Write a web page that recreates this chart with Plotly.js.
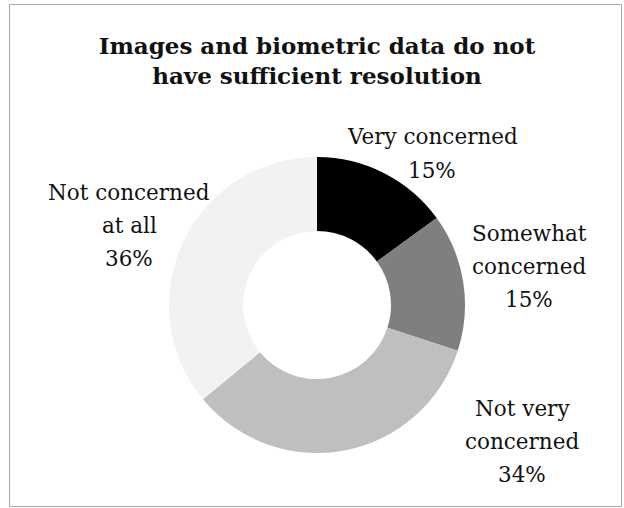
<!DOCTYPE html>
<html>
<head>
<meta charset="utf-8">
<script src="https://cdn.plot.ly/plotly-3.0.1.min.js"></script>
<style>
  html, body { margin: 0; padding: 0; background: #ffffff; }
  #chart { width: 624px; height: 508px; }
</style>
</head>
<body>
<div id="chart"></div>
<script>
// Survey responses, in clockwise order from 12 o'clock
const categories = ['Very concerned', 'Somewhat concerned', 'Not very concerned', 'Not concerned at all'];
const values = [15, 15, 34, 36];
// How each category name wraps in its label
const labelLines = [
  ['Very concerned'],
  ['Somewhat', 'concerned'],
  ['Not very', 'concerned'],
  ['Not concerned', 'at all']
];
const titleText = 'Images and biometric data do not<br>have sufficient resolution';

// Styling and placement
const W = 624, H = 508;
const sliceColors = ['#000000', '#7f7f7f', '#bfbfbf', '#f2f2f2'];
const FONT = 'DejaVu Serif, Liberation Serif, serif';
const labelSize = 21.5;
const lineGap = 33;
// pixel anchors: [center x, center y of first line]
const labelAnchors = [[432, 137], [529, 233], [522, 408], [129, 192]];

const total = values.reduce((a, b) => a + b, 0);

const annotations = [];
categories.forEach((cat, i) => {
  const pct = Math.round(values[i] / total * 100) + '%';
  const lines = labelLines[i].concat([pct]);
  lines.forEach((line, j) => {
    annotations.push({
      xref: 'paper', yref: 'paper',
      x: labelAnchors[i][0] / W,
      y: 1 - (labelAnchors[i][1] + j * lineGap) / H,
      xanchor: 'center', yanchor: 'middle',
      text: line, showarrow: false,
      font: { family: FONT, size: labelSize, color: '#111111' }
    });
  });
});

const cx = 317, cy = 305, r = 148;
const trace = {
  type: 'pie',
  labels: categories,
  values: values,
  sort: false,
  direction: 'clockwise',
  rotation: 0,
  hole: 0.5,
  textinfo: 'none',
  hoverinfo: 'label+percent',
  marker: { colors: sliceColors, line: { width: 0 } },
  domain: {
    x: [(cx - r) / W, (cx + r) / W],
    y: [1 - (cy + r) / H, 1 - (cy - r) / H]
  },
  showlegend: false
};

const layout = {
  width: W, height: H,
  margin: { l: 0, r: 0, t: 0, b: 0 },
  paper_bgcolor: '#ffffff',
  plot_bgcolor: '#ffffff',
  title: {
    text: '<b>' + titleText + '</b>',
    x: cx / W, xanchor: 'center',
    xref: 'paper', yref: 'container',
    y: 1 - 54 / H, yanchor: 'top',
    font: { family: FONT, size: 23, color: '#111111' }
  },
  annotations: annotations,
  shapes: [{
    type: 'rect', xref: 'paper', yref: 'paper',
    x0: 9.5 / W, x1: 621.5 / W,
    y0: 1 - 506.5 / H, y1: 1 - 4.5 / H,
    line: { color: '#a8a8a8', width: 1 },
    fillcolor: 'rgba(0,0,0,0)'
  }]
};

Plotly.newPlot('chart', [trace], layout, { displayModeBar: false, staticPlot: true });
</script>
</body>
</html>
